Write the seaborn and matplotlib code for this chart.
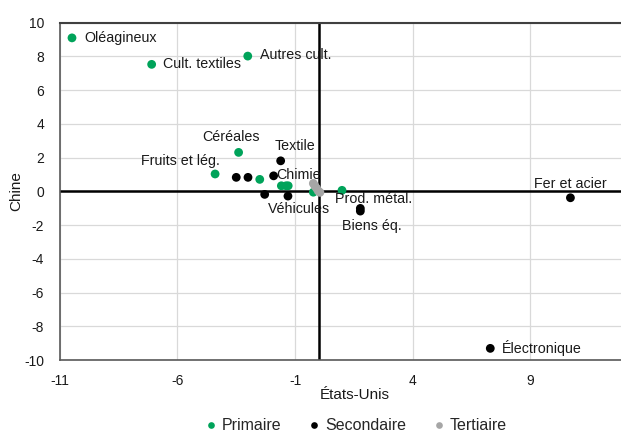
import matplotlib
matplotlib.use("Agg")
import matplotlib.pyplot as plt
from matplotlib.lines import Line2D
import seaborn as sns
import pandas as pd

# ---- data ----
names = ["Oléagineux", "Cult. textiles", "Autres cult.", "Céréales", "Fruits et lég.",
         "", "", "", "", "Prod. métal.", "",
         "Textile", "", "", "Chimie", "", "Véhicules", "", "Biens éq.",
         "Fer et acier", "Électronique",
         "", "", "", "", ""]
us = [-10.49, -7.10, -3.01, -3.40, -4.40,
      -2.50, -1.58, -1.38, -1.29, 1.00, -0.22,
      -1.61, -3.50, -3.00, -1.91, -2.29, -1.30, 1.78, 1.78,
      10.72, 7.31,
      -0.22, -0.15, -0.08, -0.01, 0.06]
china = [9.10, 7.53, 8.02, 2.31, 1.03,
         0.71, 0.33, 0.33, 0.33, 0.06, -0.05,
         1.81, 0.83, 0.83, 0.92, -0.18, -0.28, -1.01, -1.17,
         -0.38, -9.31,
         0.47, 0.31, 0.18, 0.02, -0.06]
sector = (["Primaire"] * 11 + ["Secondaire"] * 10 + ["Tertiaire"] * 5)
sectors = ["Primaire", "Secondaire", "Tertiaire"]
colors = ["#00A35A", "#000000", "#A6A6A6"]
x_ticks = [-11, -6, -1, 4, 9]
y_ticks = [-10, -8, -6, -4, -2, 0, 2, 4, 6, 8, 10]

# label placement (pixel offsets, alignment)
label_style = {
    "Oléagineux": (12, 0, "left"),
    "Cult. textiles": (11, 0, "left"),
    "Autres cult.": (12, 1, "left"),
    "Céréales": (-8, 15, "center"),
    "Fruits et lég.": (5, 13, "right"),
    "Prod. métal.": (32, -9, "center"),
    "Textile": (14, 15, "center"),
    "Chimie": (3, 1, "left"),
    "Véhicules": (11, -13, "center"),
    "Biens éq.": (12, -15, "center"),
    "Fer et acier": (0, 14, "center"),
    "Électronique": (12, 0, "left"),
}

df = pd.DataFrame({"name": names, "us": us, "china": china, "sector": sector})

sns.set_theme(style="white")
plt.rcParams["font.family"] = ["Liberation Sans", "DejaVu Sans"]
plt.rcParams["axes.unicode_minus"] = False

fig = plt.figure(figsize=(6.21, 4.33), dpi=100)
ax = fig.add_axes([60 / 621, 1 - 360 / 433, 1 - 60 / 621, (360 - 22.7) / 433])

ax.set_xlim(-11, -11 + (621 - 60) / 23.5)
ax.set_ylim(-10, 10)
ax.set_xticks(x_ticks)
ax.set_yticks(y_ticks)
ax.grid(True, color="#D9D9D9", linewidth=0.9)
ax.set_axisbelow(True)

ax.axhline(0, color="black", linewidth=1.8, zorder=2)
ax.axvline(0, color="black", linewidth=1.8, zorder=2)

sns.scatterplot(data=df, x="us", y="china", hue="sector", hue_order=sectors,
                palette=colors, s=40, edgecolor="none", legend=False, ax=ax, zorder=3)

for _, r in df.iterrows():
    if r["name"] in label_style:
        dx, dy, ha = label_style[r["name"]]
        ax.annotate(r["name"], (r["us"], r["china"]), xytext=(dx, dy),
                    textcoords="offset pixels", ha=ha, va="center",
                    fontsize=10.3, color="#1a1a1a", zorder=4)

for side in ["left", "bottom"]:
    ax.spines[side].set_color("#595959")
    ax.spines[side].set_linewidth(1.2)
ax.spines["top"].set_color("#404040")
ax.spines["top"].set_linewidth(1.5)
ax.spines["right"].set_visible(False)

ax.tick_params(axis="both", length=0, labelsize=10, colors="#1a1a1a")
ax.tick_params(axis="x", pad=10)
ax.tick_params(axis="y", pad=11.5)
ax.set_xlabel("États-Unis", fontsize=11, color="#1a1a1a")
ax.set_ylabel("Chine", fontsize=11, color="#1a1a1a")
ax.xaxis.set_label_coords((354.3 - 60) / 561, -0.083)
ax.yaxis.set_label_coords(-0.066, 0.5)

handles = [Line2D([0], [0], marker="o", linestyle="none", markersize=4.8,
                  markerfacecolor=c, markeredgecolor="none") for c in colors]
fig.legend(handles, sectors, loc="center", bbox_to_anchor=(0.574, 0.017), ncol=3,
           frameon=False, fontsize=11.5, handletextpad=0.39, columnspacing=1.75,
           handlelength=0.6, borderpad=0.2)

fig.savefig("out.png", dpi=100)
